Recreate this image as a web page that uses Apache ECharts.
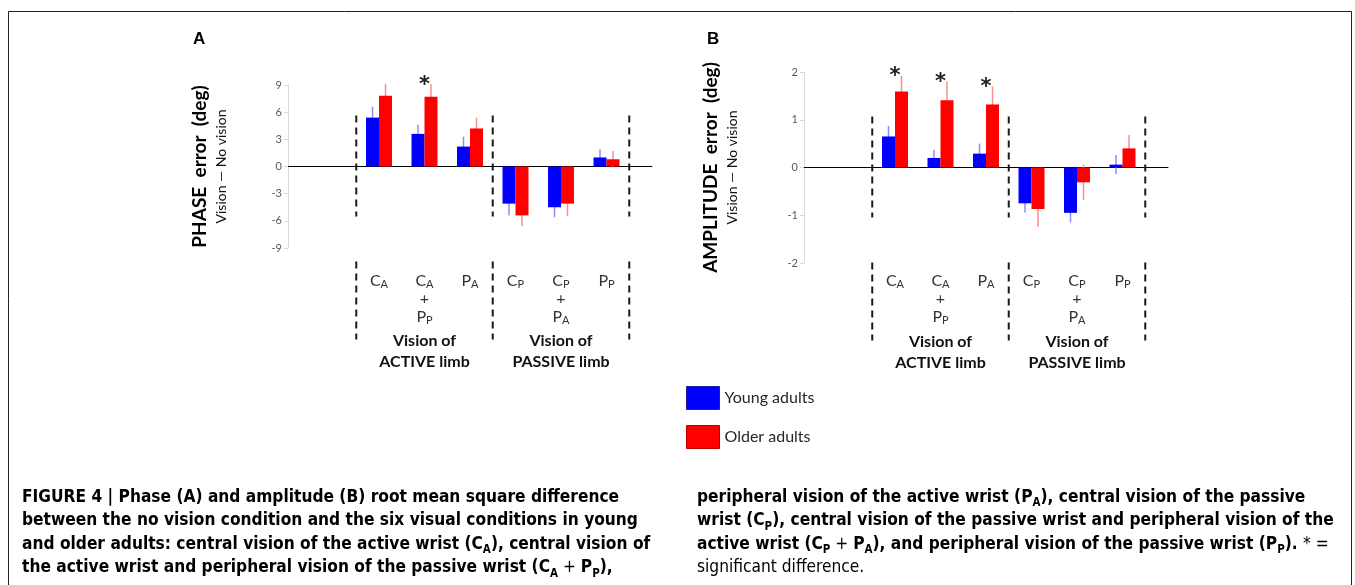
<!DOCTYPE html>
<html>
<head>
<meta charset="utf-8">
<script src="https://cdn.jsdelivr.net/npm/echarts@6/dist/echarts.min.js"></script>
<style>
  html, body { margin: 0; padding: 0; background: #fff; }
  #chart { width: 1355px; height: 585px; }
</style>
</head>
<body>
<div id="chart"></div>
<script>
// conditions (first letter = main glyph, rest = subscript)
const conditions = ['CA', 'CA+PP', 'PA', 'CP', 'CP+PA', 'PP'];
const groupNames = ['Vision of\nACTIVE limb', 'Vision of\nPASSIVE limb'];
const groupSizes = [3, 3];
const seriesNames = ['Young adults', 'Older adults'];

// A: phase error (deg), vision - no vision
const phaseYoung = [5.4, 3.6, 2.2, -4.1, -4.5, 1.0];
const phaseOlder = [7.8, 7.7, 4.2, -5.4, -4.1, 0.8];
const phaseYoungErr = [1.2, 1.0, 1.1, 1.3, 1.1, 0.9];
const phaseOlderErr = [1.3, 1.4, 1.2, 1.2, 1.4, 0.9];
const phaseSig = [0, 1, 0, 0, 0, 0];
const phaseTicks = [-9, -6, -3, 0, 3, 6, 9];

// B: amplitude error (deg), vision - no vision
const ampYoung = [0.65, 0.20, 0.29, -0.75, -0.95, 0.06];
const ampOlder = [1.59, 1.41, 1.32, -0.87, -0.31, 0.40];
const ampYoungErr = [0.22, 0.17, 0.21, 0.19, 0.20, 0.20];
const ampOlderErr = [0.33, 0.39, 0.38, 0.37, 0.37, 0.28];
const ampSig = [1, 1, 1, 0, 0, 0];
const ampTicks = [-2, -1, 0, 1, 2];

const captionLeft = [
  '{b|FIGURE 4 | Phase (A) and amplitude (B) root mean square difference}',
  '{b|between the no vision condition and the six visual conditions in young}',
  '{b|and older adults: central vision of the active wrist (C}{bs|A}{b|), central vision of}',
  '{b|the active wrist and peripheral vision of the passive wrist (C}{bs|A}{r| + }{b|P}{bs|P}{b|),}'
];
const captionRight = [
  '{b|peripheral vision of the active wrist (P}{bs|A}{b|), central vision of the passive}',
  '{b|wrist (C}{bs|P}{b|), central vision of the passive wrist and peripheral vision of the}',
  '{b|active wrist (C}{bs|P}{r| + }{b|P}{bs|A}{b|), and peripheral vision of the passive wrist (P}{bs|P}{b|). }{r|* =}',
  '{r|significant difference.}'
];

const chart = echarts.init(document.getElementById('chart'));

const FONT = 'Lato';
const CAP = "'Liberation Sans Narrow', 'DejaVu Sans Condensed', 'Arial Narrow', sans-serif";
const BAR_W = 13;
const PAD_BEFORE = 2, PAD_AFTER = 1;
const LABEL_TOP = 272;

// axis slots: empty slots around the six conditions
const slots = [];
for (let i = 0; i < PAD_BEFORE; i++) slots.push('pad' + i);
conditions.forEach(c => slots.push(c));
for (let i = 0; i < PAD_AFTER; i++) slots.push('end' + i);

const toSlots = arr => slots.map((s, i) => {
  const k = i - PAD_BEFORE;
  return k >= 0 && k < arr.length ? arr[k] : '-';
});

const errData = (vals, errs) => vals.map((v, k) => [k + PAD_BEFORE, v, errs[k]]);
const sigData = (vals, errs, sig) => vals.map((v, k) => [k + PAD_BEFORE, v, errs[k]]).filter((d, k) => sig[k]);

// dividers sit between slot i and i+1
const dividers = [[PAD_BEFORE - 1, 0]];
const groupCenters = [];
let acc = 0;
groupSizes.forEach(n => {
  groupCenters.push([PAD_BEFORE + acc + (n - 1) / 2, 0]);
  acc += n;
  dividers.push([PAD_BEFORE - 1 + acc, 0]);
});

const subLabel = code => code.split('+')
  .map(p => '{m|' + p[0] + '}{s|' + p.slice(1) + '}')
  .join('\n{m|+}\n');

const labelRich = {
  m: { fontFamily: FONT, fontSize: 16, color: '#333', lineHeight: 18 },
  s: { fontFamily: FONT, fontSize: 11, color: '#333', lineHeight: 12, verticalAlign: 'bottom' }
};

const nameRich = {
  t: { fontFamily: FONT, fontSize: 19, fontWeight: 'bold', color: '#000', lineHeight: 22 },
  s: { fontFamily: FONT, fontSize: 14, color: '#111', lineHeight: 20 }
};

function errRender(offset, color) {
  return function (params, api) {
    const idx = api.value(0), v = api.value(1), e = api.value(2);
    const lo = api.coord([idx, v - e]);
    const hi = api.coord([idx, v + e]);
    const x = lo[0] + offset;
    return {
      type: 'line',
      shape: { x1: x, y1: lo[1], x2: x, y2: hi[1] },
      style: { stroke: color, lineWidth: 1.5 }
    };
  };
}

function starRender(params, api) {
  const p = api.coord([api.value(0), api.value(1) + api.value(2)]);
  return {
    type: 'text', x: p[0], y: p[1] + 1,
    style: { text: '*', fontFamily: 'DejaVu Sans', fontSize: 21, fontWeight: 'bold', fill: '#222', align: 'center', verticalAlign: 'middle' }
  };
}

function dividerRender(params, api) {
  const i = api.value(0);
  const a = api.coord([i, 0]), b = api.coord([i + 1, 0]);
  const x = (a[0] + b[0]) / 2, y0 = a[1];
  const style = { stroke: '#1a1a1a', lineWidth: 2, lineDash: [7, 5] };
  return {
    type: 'group',
    children: [
      { type: 'line', shape: { x1: x, y1: y0 - 51, x2: x, y2: y0 + 50 }, style },
      { type: 'line', shape: { x1: x, y1: y0 + 95, x2: x, y2: y0 + 173 }, style }
    ]
  };
}

function groupLabelRender(params, api) {
  const p = api.coord([api.value(0), 0]);
  return {
    type: 'text', x: p[0], y: p[1] + 185,
    style: {
      text: groupNames[params.dataIndex], fontFamily: FONT, fontSize: 16, fontWeight: 'bold',
      fill: '#111', align: 'center', verticalAlign: 'middle', lineHeight: 21
    }
  };
}

const panels = [
  { young: phaseYoung, older: phaseOlder, yErr: phaseYoungErr, oErr: phaseOlderErr, sig: phaseSig, ticks: phaseTicks,
    grid: { left: 288, top: 85, width: 364, height: 163 }, title: 'PHASE  error  (deg)', gap: 57 },
  { young: ampYoung, older: ampOlder, yErr: ampYoungErr, oErr: ampOlderErr, sig: ampSig, ticks: ampTicks,
    grid: { left: 804, top: 72, width: 364, height: 191 }, title: 'AMPLITUDE  error  (deg)', gap: 62 }
];

const xAxis = [], yAxis = [], grid = [], series = [];
panels.forEach((p, g) => {
  grid.push(p.grid);
  xAxis.push({
    type: 'category', gridIndex: g, data: slots, boundaryGap: false,
    axisLine: { onZero: true, lineStyle: { color: '#000', width: 1 } },
    axisTick: { show: false },
    axisLabel: {
      interval: 0, margin: LABEL_TOP - (p.grid.top + p.grid.height), rich: labelRich,
      formatter: v => conditions.includes(v) ? subLabel(v) : ''
    },
    splitLine: { show: false }
  });
  yAxis.push({
    type: 'value', gridIndex: g,
    min: p.ticks[0], max: p.ticks[p.ticks.length - 1], interval: p.ticks[1] - p.ticks[0],
    axisLine: { show: true, lineStyle: { color: '#d9d9d9' } },
    axisTick: { show: true, length: 4, lineStyle: { color: '#d9d9d9' } },
    axisLabel: { color: '#595959', fontFamily: FONT, fontSize: 11, margin: 6 },
    splitLine: { show: false },
    name: '{t|' + p.title + '}\n{s|Vision — No vision}',
    nameLocation: 'middle', nameRotate: 90, nameGap: p.gap,
    nameTextStyle: { rich: nameRich }
  });
  const ax = { xAxisIndex: g, yAxisIndex: g };
  series.push(
    Object.assign({ type: 'bar', name: seriesNames[0], data: toSlots(p.young), barWidth: BAR_W, barGap: '0%',
      itemStyle: { color: '#0000ff' }, z: 3 }, ax),
    Object.assign({ type: 'bar', name: seriesNames[1], data: toSlots(p.older), barWidth: BAR_W, barGap: '0%',
      itemStyle: { color: '#ff0000' }, z: 3 }, ax),
    Object.assign({ type: 'custom', data: errData(p.young, p.yErr), renderItem: errRender(-BAR_W / 2, '#8c8cff'), z: 1 }, ax),
    Object.assign({ type: 'custom', data: errData(p.older, p.oErr), renderItem: errRender(BAR_W / 2, '#ff8c8c'), z: 1 }, ax),
    Object.assign({ type: 'custom', data: sigData(p.older, p.oErr, p.sig), renderItem: starRender, z: 4 }, ax),
    Object.assign({ type: 'custom', data: dividers, renderItem: dividerRender, z: 4, silent: true }, ax),
    Object.assign({ type: 'custom', data: groupCenters, renderItem: groupLabelRender, z: 4, silent: true }, ax)
  );
});

const captionRich = {
  b: { fontFamily: CAP, fontSize: 17.2, fontWeight: 'bold', color: '#111', lineHeight: 23.5 },
  bs: { fontFamily: CAP, fontSize: 11.5, fontWeight: 'bold', color: '#111', lineHeight: 16, verticalAlign: 'bottom' },
  r: { fontFamily: CAP, fontSize: 17.2, color: '#111', lineHeight: 23.5 }
};

chart.setOption({
  animation: false,
  backgroundColor: '#fff',
  grid, xAxis, yAxis, series,
  legend: {
    data: [
      { name: seriesNames[0], itemStyle: { borderColor: '#1f1f9e', borderWidth: 1 } },
      { name: seriesNames[1], itemStyle: { borderColor: '#b80000', borderWidth: 1 } }
    ],
    orient: 'vertical', left: 686, top: 386, padding: 0,
    itemWidth: 33, itemHeight: 23, itemGap: 15, icon: 'rect', selectedMode: false,
    textStyle: { fontFamily: FONT, fontSize: 16, color: '#262626' }
  },
  graphic: [
    { type: 'rect', silent: true, z: -1, shape: { x: 8.5, y: 11.5, width: 1343, height: 640 },
      style: { fill: 'none', stroke: '#222', lineWidth: 1 } },
    { type: 'text', left: 193, top: 31, style: { text: 'A', font: "bold 17px 'Liberation Sans', Arial, sans-serif", fill: '#000' } },
    { type: 'text', left: 707, top: 31, style: { text: 'B', font: "bold 17px 'Liberation Sans', Arial, sans-serif", fill: '#000' } },
    { type: 'text', left: 22, top: 489, style: { text: captionLeft.join('\n'), rich: captionRich } },
    { type: 'text', left: 697, top: 489, style: { text: captionRight.join('\n'), rich: captionRich } }
  ]
});
</script>
</body>
</html>
